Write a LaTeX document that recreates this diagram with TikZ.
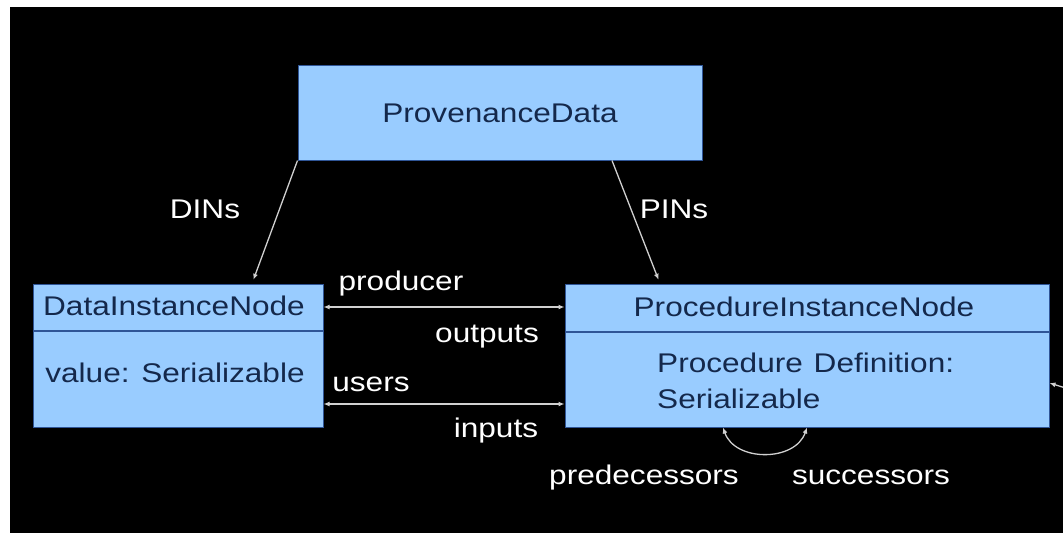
\documentclass[tikz,border=0pt]{standalone}
\usepackage{fontspec}
\setmainfont{Liberation Sans}[FakeStretch=1.17]
\usetikzlibrary{arrows.meta}
\definecolor{boxfill}{HTML}{99CCFF}
\definecolor{boxline}{HTML}{2F5597}
\definecolor{boxtext}{HTML}{14284B}
\definecolor{linkcol}{HTML}{D0D0D0}
\begin{document}
\begin{tikzpicture}[x=1pt,y=-1pt,
  umlbox/.style={draw=boxline,fill=boxfill,line width=1pt,inner sep=0pt},
  divider/.style={draw=boxline,line width=1.2pt},
  boxlabel/.style={text=boxtext,inner sep=0pt,anchor=base,font=\fontsize{27}{36}\selectfont},
  linklabel/.style={text=white,inner sep=0pt,anchor=base,font=\fontsize{27}{36}\selectfont},
  conn/.style={draw=linkcol,line width=1.3pt},
  tip/.tip={Latex[length=6pt,width=5pt]}]
\useasboundingbox (0,0) rectangle (1063,533);
\fill[white] (0,0) rectangle (1063,533);
\fill[black] (10,7) rectangle (1063,533);

% class boxes
\node[umlbox,minimum width=404pt,minimum height=95pt] (prov) at (500,112.5) {};
\node[umlbox,minimum width=290pt,minimum height=143pt] (din) at (178,355.5) {};
\node[umlbox,minimum width=484pt,minimum height=143pt] (pin) at (807,355.5) {};
\draw[divider] (din.west |- 0,331) -- (din.east |- 0,331);
\draw[divider] (pin.west |- 0,332) -- (pin.east |- 0,332);

% box texts
\node[boxlabel] (provname) at (500,122) {ProvenanceData};
\node[boxlabel] (dinname) at (174,315) {DataInstanceNode};
\node[boxlabel] (dinattr) at (175,382) {value: Serializable};
\node[boxlabel] (pinname) at (804,316) {ProcedureInstanceNode};
\node[boxlabel,anchor=base west] (pinattra) at (657,372) {Procedure\hspace{0.4em}Definition:};
\node[boxlabel,anchor=base west] (pinattrb) at (657,408) {Serializable};

% connectors
\draw[conn,-tip,shorten >=4pt] (prov.south west) -- (din.north -| 252,0);
\draw[conn,-tip,shorten >=4pt] (prov.south -| 612,0) -- (pin.north -| 660,0);
\draw[conn,tip-tip] (din.east |- 0,307) -- (pin.west |- 0,307);
\draw[conn,tip-tip] (din.east |- 0,404) -- (pin.west |- 0,404);
\draw[conn,tip-tip] (pin.south -| 723,0) .. controls (735,462) and (795,462) .. (pin.south);
\coordinate (offright) at (1072,390);
\draw[conn,-tip] (offright) -- (pin.east |- 0,383);

% connector labels
\node[linklabel] (dins) at (205,218) {DINs};
\node[linklabel] (pins) at (674,218) {PINs};
\node[linklabel] (producer) at (401,290) {producer};
\node[linklabel] (outputs) at (487,342) {outputs};
\node[linklabel] (users) at (371,391) {users};
\node[linklabel] (inputs) at (496,437) {inputs};
\node[linklabel] (pred) at (644,484) {predecessors};
\node[linklabel] (succ) at (871,484) {successors};
\end{tikzpicture}
\end{document}
